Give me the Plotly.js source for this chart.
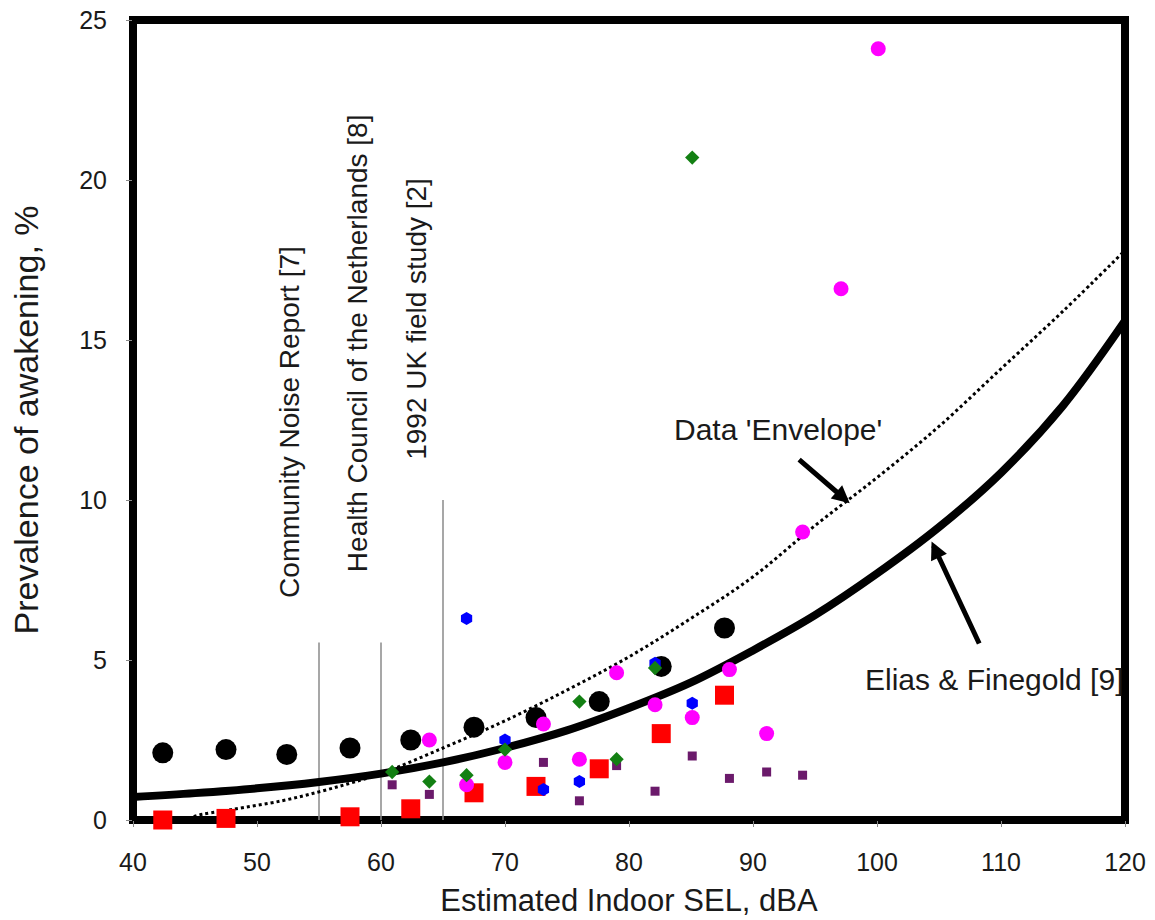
<!DOCTYPE html>
<html><head><meta charset="utf-8">
<script src="https://cdn.plot.ly/plotly-3.0.1.min.js"></script>
<style>html,body{margin:0;padding:0;background:#fff}#chart{width:1155px;height:920px}</style>
</head><body><div id="chart"></div>
<script>
// ---- data ----
const blackX = [42.4, 47.5, 52.4, 57.5, 62.4, 67.5, 72.5, 77.6, 82.6, 87.7];
const blackY = [2.1, 2.2, 2.05, 2.25, 2.5, 2.9, 3.2, 3.7, 4.8, 6.0];
const redX = [42.4, 47.5, 57.5, 62.4, 67.5, 72.5, 77.6, 82.6, 87.7];
const redY = [0, 0.05, 0.1, 0.35, 0.85, 1.05, 1.6, 2.7, 3.9];
const magentaX = [63.9, 66.9, 70.0, 73.1, 76.0, 79.0, 82.1, 85.1, 88.1, 91.1, 94.0, 97.1, 100.1];
const magentaY = [2.5, 1.1, 1.8, 3.0, 1.9, 4.6, 3.6, 3.2, 4.7, 2.7, 9.0, 16.6, 24.1];
const purpleX = [60.9, 63.9, 73.1, 76.0, 79.0, 82.1, 85.1, 88.1, 91.1, 94.0];
const purpleY = [1.1, 0.8, 1.8, 0.6, 1.7, 0.9, 2.0, 1.3, 1.5, 1.4];
const blueX = [66.9, 70.0, 73.1, 76.0, 82.1, 85.1];
const blueY = [6.3, 2.5, 0.95, 1.2, 4.9, 3.65];
const greenX = [60.9, 63.9, 66.9, 70.0, 76.0, 79.0, 82.1, 85.1];
const greenY = [1.5, 1.2, 1.4, 2.2, 3.7, 1.9, 4.75, 20.7];
const eliasX = [40, 45, 50, 55, 60, 65, 70, 75, 80, 85, 90, 95, 100, 105, 110, 115, 120];
const eliasY = [0.72, 0.84, 0.99, 1.19, 1.45, 1.8, 2.25, 2.8, 3.5, 4.3, 5.3, 6.4, 7.7, 9.15, 10.85, 12.95, 15.6];
const envX = [44.5, 45, 48, 52, 55, 57.5, 60, 65, 70, 75, 80, 85, 90, 95, 100, 105, 110, 115, 120];
const envY = [0, 0.12, 0.33, 0.6, 0.88, 1.15, 1.45, 2.25, 3.1, 4.06, 5.1, 6.3, 7.6, 9.2, 10.7, 12.3, 14.1, 15.9, 17.8];
const guideX = [55, 60, 65];
const guideTop = [5.55, 5.55, 10];
const guideLabels = ["Community Noise Report [7]", "Health Council of the Netherlands [8]", "1992 UK field study [2]"];
const xTicks = [40, 50, 60, 70, 80, 90, 100, 110, 120];
const yTicks = [0, 5, 10, 15, 20, 25];

const FONT = "Liberation Sans, Arial, sans-serif";
const TXT = "#1a1a1a";

function sc(x, y, color, symbol, size) {
  return {x: x, y: y, type: 'scatter', mode: 'markers', hoverinfo: 'skip', cliponaxis: false,
    marker: {color: color, symbol: symbol, size: size, line: {width: 0}}};
}

const traces = [
  {x: envX, y: envY, type: 'scatter', mode: 'lines', line: {color: '#000', width: 3, dash: 'dot', shape: 'spline'}, hoverinfo: 'skip'},
  {x: eliasX, y: eliasY, type: 'scatter', mode: 'lines', line: {color: '#000', width: 8, shape: 'spline'}, hoverinfo: 'skip'},
  sc(blackX, blackY, '#000000', 'circle', 21),
  sc(redX, redY, '#ff0000', 'square', 19),
  sc(magentaX, magentaY, '#ff00ff', 'circle', 15),
  sc(purpleX, purpleY, '#6b1a6b', 'square', 9),
  sc(blueX, blueY, '#0000ff', 'hexagon', 13),
  sc(greenX, greenY, '#138013', 'diamond', 11)
];

const shapes = [
  {type: 'rect', xref: 'paper', yref: 'paper', x0: 0, x1: 1, y0: 0, y1: 1, layer: 'below',
   line: {color: '#000', width: 8}, fillcolor: 'rgba(0,0,0,0)'}
];
guideX.forEach((gx, i) => shapes.push({type: 'line', xref: 'x', yref: 'y', x0: gx, x1: gx, y0: 0, y1: guideTop[i],
  layer: 'below', line: {color: '#8a8a8a', width: 1.5}}));

const LBL = {family: FONT, size: 28, color: TXT};
const annotations = [
  {x: 52.66, y: 12.44, xref: 'x', yref: 'y', text: guideLabels[0], textangle: -90, showarrow: false, font: LBL},
  {x: 58.06, y: 14.9, xref: 'x', yref: 'y', text: guideLabels[1], textangle: -90, showarrow: false, font: LBL},
  {x: 62.9, y: 15.66, xref: 'x', yref: 'y', text: guideLabels[2], textangle: -90, showarrow: false, font: LBL},
  {x: 92.0, y: 12.2, xref: 'x', yref: 'y', text: "Data 'Envelope'", showarrow: false,
   font: {family: FONT, size: 30, color: TXT}},
  {x: 109.4, y: 4.4, xref: 'x', yref: 'y', text: "Elias &amp; Finegold [9]", showarrow: false,
   font: {family: FONT, size: 30, color: TXT}},
  {x: 97.8, y: 9.9, xref: 'x', yref: 'y', axref: 'x', ayref: 'y', ax: 93.6, ay: 11.3, text: '',
   showarrow: true, arrowhead: 2, arrowsize: 0.7, arrowwidth: 5, arrowcolor: '#000'},
  {x: 104.4, y: 8.7, xref: 'x', yref: 'y', axref: 'x', ayref: 'y', ax: 108.3, ay: 5.47, text: '',
   showarrow: true, arrowhead: 2, arrowsize: 0.7, arrowwidth: 5, arrowcolor: '#000'}
];

const layout = {
  width: 1155, height: 920,
  margin: {l: 133, r: 30, t: 20, b: 100},
  paper_bgcolor: '#fff', plot_bgcolor: '#fff',
  showlegend: false,
  font: {family: FONT, color: TXT},
  xaxis: {range: [40, 120], tickvals: xTicks, ticktext: xTicks.map(String), showgrid: false, zeroline: false,
    showline: false, ticks: 'outside', ticklen: 6, tickcolor: '#888', tickwidth: 1, ticklabelstandoff: 14,
    tickfont: {family: FONT, size: 25, color: TXT},
    title: {text: 'Estimated Indoor SEL, dBA', font: {family: FONT, size: 31, color: TXT}, standoff: 14}},
  yaxis: {range: [0, 25], tickvals: yTicks, ticktext: yTicks.map(String), showgrid: false, zeroline: false,
    showline: false, ticks: 'outside', ticklen: 6, tickcolor: '#888', tickwidth: 1, ticklabelstandoff: 14,
    tickfont: {family: FONT, size: 25, color: TXT},
    title: {text: 'Prevalence of awakening, %', font: {family: FONT, size: 34, color: TXT}, standoff: 30}},
  shapes: shapes,
  annotations: annotations
};

Plotly.newPlot('chart', traces, layout, {displayModeBar: false, staticPlot: true});
</script>
</body></html>
